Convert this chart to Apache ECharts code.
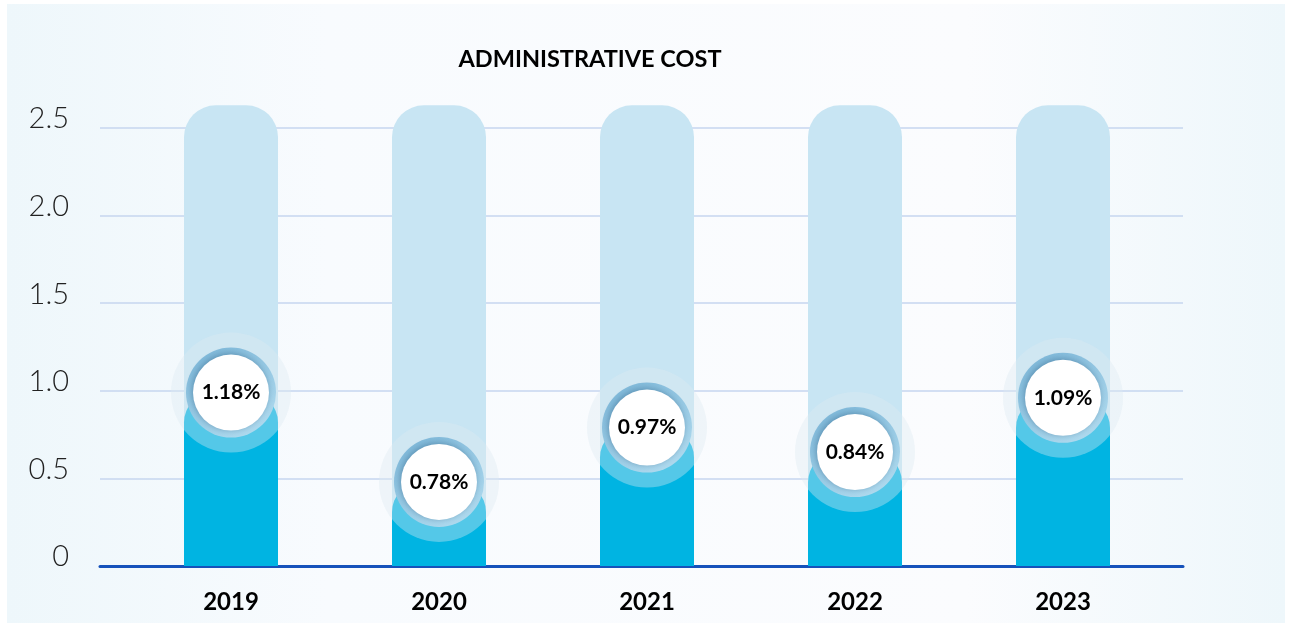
<!DOCTYPE html>
<html>
<head>
<meta charset="utf-8">
<script src="https://cdn.jsdelivr.net/npm/echarts@6/dist/echarts.min.js"></script>
<style>
html,body{margin:0;padding:0;background:#fff;}
#main{width:1293px;height:627px;}
</style>
</head>
<body>
<div id="main"></div>
<script>
var title = 'ADMINISTRATIVE COST';
var years = ['2019', '2020', '2021', '2022', '2023'];
var barValues = [0.99, 0.48, 0.79, 0.65, 0.96];
var trackValues = [2.63, 2.63, 2.63, 2.63, 2.63];
var percentLabels = ['1.18%', '0.78%', '0.97%', '0.84%', '1.09%'];
var yTicks = [0, 0.5, 1.0, 1.5, 2.0, 2.5];

var FONT = 'Lato, "Open Sans", sans-serif';
var chart = echarts.init(document.getElementById('main'), null, {renderer: 'canvas'});

var circleData = barValues.map(function (v, i) { return {value: v, label: {formatter: percentLabels[i]}}; });

var option = {
  animation: false,
  backgroundColor: '#ffffff',
  graphic: [{
    type: 'rect', z: -10, silent: true,
    shape: {x: 7, y: 4, width: 1278, height: 619},
    style: {
      fill: new echarts.graphic.LinearGradient(0, 0, 1, 0, [
        {offset: 0, color: '#eef7fb'},
        {offset: 0.25, color: '#f8fbfe'},
        {offset: 0.75, color: '#fbfcfe'},
        {offset: 1, color: '#eef7fb'}
      ])
    }
  }],
  title: {
    text: title,
    left: 585, top: 42, textAlign: 'center',
    textStyle: {fontFamily: FONT, fontWeight: 'bold', fontSize: 23.5, color: '#000'}
  },
  grid: [
    {left: 100, right: 110, top: 128, bottom: 61},
    {left: 127, right: 126, top: 566 - 2.7 * 175.2, bottom: 61}
  ],
  xAxis: [
    {
      type: 'category', gridIndex: 0, data: years,
      axisLine: {show: true, lineStyle: {color: '#1652bb', width: 3}},
      axisTick: {show: false}, axisLabel: {show: false}, splitLine: {show: false}
    },
    {
      type: 'category', gridIndex: 1, data: years,
      axisLine: {show: false}, axisTick: {show: false},
      axisLabel: {
        margin: 24, fontFamily: FONT, fontWeight: 'bold', fontSize: 24, color: '#000'
      }
    }
  ],
  yAxis: [
    {
      type: 'value', gridIndex: 0, min: 0, max: 2.5, interval: 0.5,
      axisLine: {show: false}, axisTick: {show: false},
      splitLine: {show: true, lineStyle: {color: '#c6d6ef', width: 1.5}},
      axisLabel: {
        margin: 31, fontFamily: FONT, fontWeight: 300, fontSize: 29, color: '#222',
        verticalAlign: 'bottom', lineHeight: 18,
        formatter: function (v) {
          var idx = yTicks.indexOf(v);
          if (idx < 0) return '';
          return v === 0 ? '0' : v.toFixed(1);
        }
      }
    },
    {
      type: 'value', gridIndex: 1, min: 0, max: 2.7, show: false
    }
  ],
  series: [
    {
      type: 'bar', xAxisIndex: 1, yAxisIndex: 1, data: trackValues,
      barWidth: 94, barGap: '-100%', z: 2, silent: true,
      itemStyle: {color: '#c8e5f3', borderRadius: [32, 32, 0, 0]}
    },
    {
      type: 'bar', xAxisIndex: 1, yAxisIndex: 1, data: barValues,
      barWidth: 94, barGap: '-100%', z: 3, silent: true,
      itemStyle: {color: '#00b4e2', borderRadius: [30, 30, 0, 0]}
    },
    {
      type: 'scatter', xAxisIndex: 1, yAxisIndex: 1, data: barValues,
      symbol: 'circle', symbolSize: 120, z: 4, silent: true,
      itemStyle: {color: 'rgba(222,234,242,0.38)', opacity: 1}
    },
    {
      type: 'scatter', xAxisIndex: 1, yAxisIndex: 1, data: barValues,
      symbol: 'circle', symbolSize: 90, z: 5, silent: true,
      itemStyle: {
        color: new echarts.graphic.LinearGradient(0, 0, 0.6, 1, [
          {offset: 0, color: '#7ab5d7'},
          {offset: 1, color: '#acd8ed'}
        ]),
        opacity: 1
      }
    },
    {
      type: 'scatter', xAxisIndex: 1, yAxisIndex: 1, data: circleData,
      symbol: 'circle', symbolSize: 76, z: 6, silent: true,
      itemStyle: {
        color: '#ffffff', opacity: 1,
        shadowColor: 'rgba(20,70,110,0.4)', shadowBlur: 6, shadowOffsetX: -1, shadowOffsetY: -1
      },
      label: {
        show: true, position: 'inside',
        fontFamily: FONT, fontWeight: 'bold', fontSize: 21, color: '#000'
      }
    }
  ]
};
chart.setOption(option);
</script>
</body>
</html>
